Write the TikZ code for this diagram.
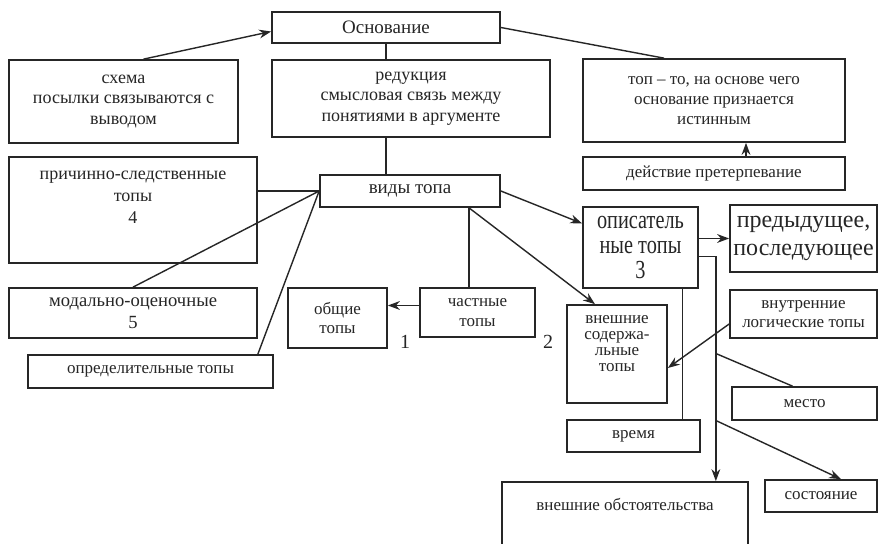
\documentclass[tikz,border=0pt]{standalone}
\usepackage{fontspec}
\setmainfont{Liberation Serif}
\newfontfamily\narrowserif[FakeStretch=0.78]{Liberation Serif}
\usetikzlibrary{arrows.meta}
\definecolor{ink}{gray}{0.15}

\begin{document}
\begin{tikzpicture}[x=0.5pt,y=-0.5pt,>={Stealth[length=6pt,width=4.4pt]},
  box/.style={draw=ink,line width=0.85pt,inner sep=0pt,align=center,text=ink,
    font=\fontsize{8.5}{9.8}\selectfont},
  corners/.style n args={4}{minimum width={(#3-#1)*0.5pt},minimum height={(#4-#2)*0.5pt},
    at={({(#1+#3)/2},{(#2+#4)/2})}},
  toplabel/.style={anchor=north,align=center,text=ink,yshift=-4pt,
    font=\fontsize{8.5}{9.8}\selectfont},
  link/.style={draw=ink,line width=0.7pt}]
\useasboundingbox[fill=white] (0,0) rectangle (879,544);

% The boxes
\node[box,corners={272}{12}{500}{43},font=\fontsize{9.5}{11}\selectfont] (osn) {Основание};
\node[box,corners={9}{60}{238}{143},font=\fontsize{9}{10.2}\selectfont] (shema) {схема\\посылки связываются с\\выводом};
\node[box,corners={272}{60}{550}{137},font=\fontsize{9}{10.2}\selectfont] (red) {редукция\\смысловая связь между\\понятиями в аргументе};
\node[box,corners={583}{59}{845}{142}] (top) {топ – то, на основе чего\\основание признается\\истинным};
\node[box,corners={583}{157}{845}{190}] (act) {действие претерпевание};
\node[box,corners={9}{157}{257}{263},
  label={[toplabel,font=\fontsize{9}{11}\selectfont]north:причинно-следственные\\топы\\4}] (prich) {};
\node[box,corners={320}{175}{500}{207},font=\fontsize{9.5}{11}\selectfont] (vid) {виды топа};
\node[box,corners={9}{288}{257}{338},font=\fontsize{9.3}{11}\selectfont] (mod) {модально-оценочные\\5};
\node[box,corners={28}{355}{273}{388}] (opr) {определительные топы};
\node[box,corners={288}{288}{387}{348}] (obsch) {общие\\топы};
\node[box,corners={420}{288}{535}{337}] (chast) {частные\\топы};
\node[box,corners={583}{207}{698}{288},font=\narrowserif\fontsize{13}{12.5}\selectfont] (opis) {описатель\\ные топы\\3};
\node[box,corners={730}{205}{877}{272},font=\fontsize{12}{14}\selectfont] (pred) {предыдущее,\\последующее};
\node[box,corners={730}{290}{877}{338}] (vnutr) {внутренние\\логические топы};
\node[box,corners={567}{305}{667}{403},
  label={[toplabel,yshift=2pt,font=\fontsize{8.5}{8}\selectfont]north:внешние\\содержа-\\льные\\топы}] (vnesh) {};
\node[box,corners={732}{387}{877}{420}] (mesto) {место};
\node[box,corners={567}{420}{700}{452}] (vrem) {время};
\node[box,corners={502}{482}{748}{552},
  label={[toplabel,yshift=-1pt]north:внешние обстоятельства}] (obst) {};
\node[box,corners={765}{480}{877}{512}] (sost) {состояние};

% The numbers
\node[text=ink,font=\fontsize{10}{12}\selectfont] (n1) at (405,342) {1};
\node[text=ink,font=\fontsize{10}{12}\selectfont] (n2) at (548,342) {2};

% Upper part
\draw[link,->] ([xshift=10pt]shema.north) -- ([yshift=-2pt]osn.west);
\draw[link] (osn.south) -- (osn.south |- red.north);
\draw[link] (osn.south |- red.south) -- (osn.south |- vid.north);
\draw[link] (osn.east) -- ([xshift=-25pt]top.north);
\draw[link,->] ([xshift=16pt]act.north) -- ([xshift=16pt]top.south);

% Left part
\draw[link] (vid.west -| prich.east) -- (vid.west);
\draw[link] (vid.west) -- (mod.north);
\draw[link] (vid.west) -- ([xshift=-8pt]opr.north east);
\draw[link] ([xshift=29.5pt]vid.south) -- ([xshift=29.5pt]vid.south |- chast.north);
\draw[link,->] ([yshift=3.5pt]chast.west) -- ([yshift=3.5pt]chast.west -| obsch.east);

% Right part
\draw[link,->] (vid.east) -- ([yshift=12pt]opis.west);
\draw[link,->] ([xshift=29.5pt]vid.south) -- ([xshift=-11pt]vnesh.north);
\draw[link,->] (opis.east |- pred.west) -- (pred.west);
\draw[link] ([xshift=21pt]opis.south) -- ([xshift=21pt]opis.south |- vrem.north);
\draw[link,->] ([yshift=-4.5pt]opis.east) -- ++(17,0) coordinate (bend) -- (bend |- obst.north);
\draw[link] (bend) ++(0,97) -- ([xshift=-6pt]mesto.north);
\draw[link,->] (bend) ++(0,164) -- ([xshift=10pt]sost.north);
\draw[link,->] ([yshift=-5pt]vnutr.west) -- ([yshift=-7pt]vnesh.east);

\end{tikzpicture}
\end{document}
